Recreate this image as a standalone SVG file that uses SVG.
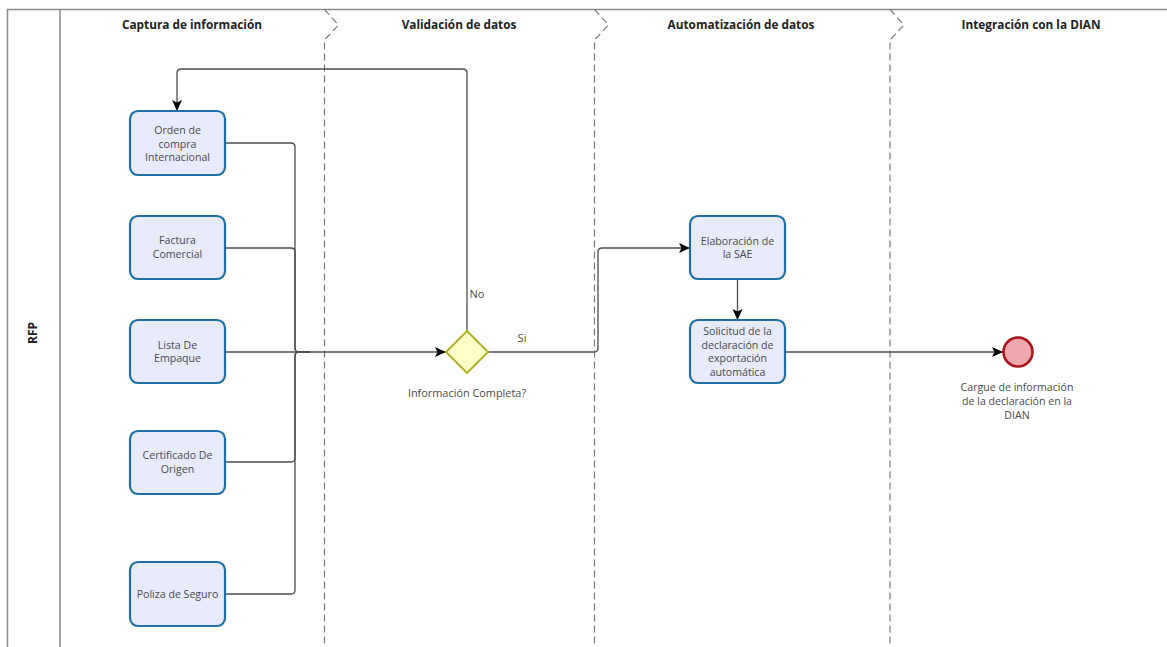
<svg xmlns="http://www.w3.org/2000/svg" width="1167" height="647" viewBox="0 0 1167 647">
<style>
.frame{fill:none;stroke:#8a8a8a;stroke-width:1.5}
.div{fill:none;stroke:#7a7a7a;stroke-width:1.2;stroke-dasharray:7,4}
.hdr{font-family:"Open Sans","Noto Sans",sans-serif;font-size:11.8px;font-weight:bold;fill:#222;text-anchor:middle}
.task rect{fill:#e8ebfb;stroke:#1d6fa5;stroke-width:2.2}
.task text,.lbl{font-family:"Open Sans","Noto Sans",sans-serif;font-size:10.6px;fill:#4a4a4a;text-anchor:middle}
.edge{fill:none;stroke:#4d4d4d;stroke-width:1.3}
</style>
<defs>
<marker id="arr" markerUnits="userSpaceOnUse" markerWidth="12" markerHeight="12" viewBox="0 0 12 12" refX="11" refY="6" orient="auto">
<path d="M0,1 L11,6 L0,11 L2.5,6 Z" fill="#000"/>
</marker>
</defs>
<rect width="1167" height="647" fill="#fff"/>
<g id="pool">
<path class="frame" d="M1167,9.5 H7.5 V647"/>
<line class="frame" x1="60" y1="9.5" x2="60" y2="647"/>
<text x="37" y="333" transform="rotate(-90 37 333)" class="hdr" style="font-size:12px">RFP</text>
</g>
<g id="lanes">
<path class="div" d="M324.5,9.5 L338.5,25 L324.5,40 V647"/>
<path class="div" d="M594.5,9.5 L608.5,25 L594.5,40 V647"/>
<path class="div" d="M890,9.5 L904,25 L890,40 V647"/>
<text class="hdr" x="192" y="29">Captura de información</text>
<text class="hdr" x="459" y="29">Validación de datos</text>
<text class="hdr" x="741" y="29">Automatización de datos</text>
<text class="hdr" x="1031" y="29">Integración con la DIAN</text>
</g>
<g id="connectors">
<path class="edge" d="M225,143 H291 Q295,143 295,147 V348 Q295,352 299,352 H310"/>
<path class="edge" d="M225,248 H291 Q295,248 295,252 V348 Q295,352 299,352 H310"/>
<path class="edge" d="M225,352 H446" marker-end="url(#arr)"/>
<path class="edge" d="M225,462 H291 Q295,462 295,458 V356 Q295,352 299,352 H310"/>
<path class="edge" d="M225,594 H291 Q295,594 295,590 V356 Q295,352 299,352 H310"/>
<path class="edge" d="M467,331 V73 Q467,69 463,69 H181 Q177,69 177,73 V111" marker-end="url(#arr)"/>
<path class="edge" d="M488,352 H594 Q598,352 598,348 V252 Q598,248 602,248 H690" marker-end="url(#arr)"/>
<path class="edge" d="M737.5,279 V320" marker-end="url(#arr)"/>
<path class="edge" d="M785,352 H1003" marker-end="url(#arr)"/>
<text class="lbl" x="477" y="298" style="font-size:11px">No</text>
<text class="lbl" x="522" y="342" style="font-size:11px">Si</text>
</g>
<g id="orden" class="task"><rect x="130" y="111" width="95" height="64" rx="8"/><text x="177.5" y="134">Orden de</text><text x="177.5" y="147.5">compra</text><text x="177.5" y="161">Internacional</text></g>
<g id="factura" class="task"><rect x="130" y="216" width="95" height="63" rx="8"/><text x="177.5" y="244">Factura</text><text x="177.5" y="257.5">Comercial</text></g>
<g id="lista" class="task"><rect x="130" y="320" width="95" height="63" rx="8"/><text x="177.5" y="348.5">Lista De</text><text x="177.5" y="362">Empaque</text></g>
<g id="certificado" class="task"><rect x="130" y="431" width="95" height="63" rx="8"/><text x="177.5" y="459">Certificado De</text><text x="177.5" y="472.5">Origen</text></g>
<g id="poliza" class="task"><rect x="130" y="562" width="95" height="64" rx="8"/><text x="177.5" y="597.5">Poliza de Seguro</text></g>
<g id="gateway"><path d="M467,331 L488,352 L467,373 L446,352 Z" fill="#ffffc8" stroke="#b2b22c" stroke-width="2"/><text class="lbl" x="467" y="397" style="font-size:10.9px">Información Completa?</text></g>
<g id="elaboracion" class="task"><rect x="690" y="216" width="95" height="63" rx="8"/><text x="737.5" y="244.5">Elaboración de</text><text x="737.5" y="258">la SAE</text></g>
<g id="solicitud" class="task"><rect x="690" y="320" width="95" height="63" rx="8"/><text x="737.5" y="334.5">Solicitud de la</text><text x="737.5" y="348.5">declaración de</text><text x="737.5" y="362">exportación</text><text x="737.5" y="375.5">automática</text></g>
<g id="end"><circle cx="1018" cy="352" r="14.5" fill="#f0a7ad" stroke="#a8151b" stroke-width="2.6"/><text class="lbl" x="1017" y="391">Cargue de información</text><text class="lbl" x="1017" y="405">de la declaración en la</text><text class="lbl" x="1017" y="419">DIAN</text></g>
</svg>
